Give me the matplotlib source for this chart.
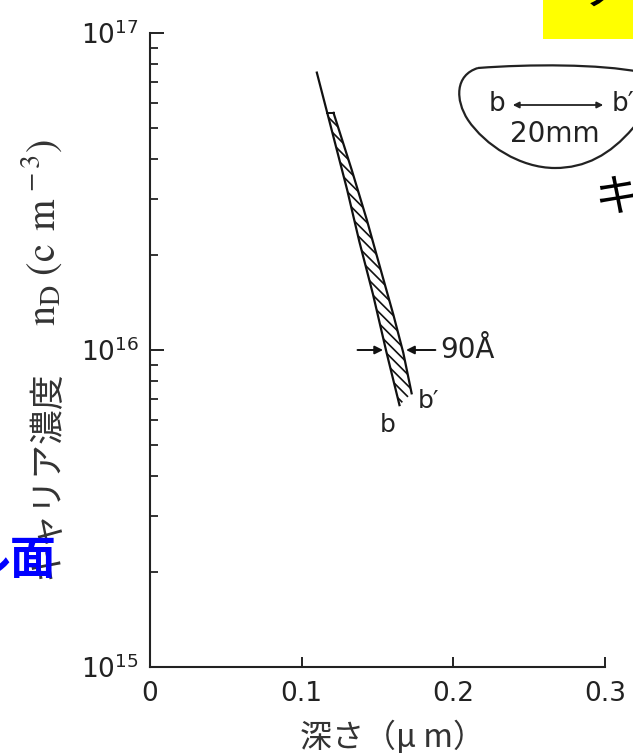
import matplotlib
matplotlib.use("Agg")
import matplotlib.pyplot as plt
import numpy as np
from matplotlib.path import Path
from matplotlib.patches import PathPatch, Rectangle, FancyArrowPatch
from matplotlib.ticker import LogLocator, NullFormatter, FixedLocator

# ---- data ----
depth_b = [0.110, 0.120, 0.130, 0.138, 0.147, 0.156, 0.1645]      # line b (left edge)
nd_b = [7.5e16, 4.9e16, 3.2e16, 2.2e16, 1.5e16, 9.8e15, 6.7e15]
depth_bp = [0.121, 0.133, 0.143, 0.153, 0.1605, 0.167, 0.1725]    # line b' (right edge)
nd_bp = [5.6e16, 3.7e16, 2.57e16, 1.73e16, 1.29e16, 9.8e15, 7.3e15]

x_ticks = [0, 0.1, 0.2, 0.3]
x_ticklabels = ["0", "0.1", "0.2", "0.3"]
y_ticks = [1e15, 1e16, 1e17]
y_ticklabels = [r"$10^{15}$", r"$10^{16}$", r"$10^{17}$"]

W, H = 633, 756
fig = plt.figure(figsize=(W / 100, H / 100), dpi=100)
fig.patch.set_facecolor("white")
plt.rcParams["mathtext.fontset"] = "dejavusans"
plt.rcParams["hatch.linewidth"] = 1.2

def fx(px):
    return px / W

def fy(py):
    return 1 - py / H

ax = fig.add_axes([fx(150), fy(667), fx(605) - fx(150), fy(33) - fy(667)])
ax.set_yscale("log")
ax.set_xlim(0, 0.3)
ax.set_ylim(1e15, 1e17)
for s in ["top", "right"]:
    ax.spines[s].set_visible(False)
for s in ["left", "bottom"]:
    ax.spines[s].set_linewidth(1.5)
    ax.spines[s].set_color("#222222")

ax.xaxis.set_major_locator(FixedLocator(x_ticks))
ax.set_xticklabels(x_ticklabels)
ax.yaxis.set_major_locator(FixedLocator(y_ticks))
ax.set_yticklabels(y_ticklabels)
ax.yaxis.set_minor_locator(LogLocator(base=10, subs=range(2, 10)))
ax.yaxis.set_minor_formatter(NullFormatter())
ax.tick_params(axis="both", which="major", direction="in", length=10, width=1.4,
               labelsize=19, colors="#222222", pad=8)
ax.tick_params(axis="x", which="major", length=7, pad=10)
ax.tick_params(axis="y", which="minor", direction="in", length=6, width=1.3, colors="#222222")

# curves
ax.plot(depth_b, nd_b, color="#111111", lw=1.6)
ax.plot(depth_bp, nd_bp, color="#111111", lw=1.6)
ax.plot([0.1165, depth_bp[0]], [nd_bp[0], nd_bp[0]], color="#111111", lw=1.4)

# hatched band between b and b'
yb = np.array(nd_bp)
xb_left = np.interp(np.log10(yb), np.log10(nd_b[::-1]), depth_b[::-1])
poly_x = list(xb_left) + [depth_b[-1]] + list(depth_bp[::-1])
poly_y = list(yb) + [nd_b[-1]] + list(nd_bp[::-1])
ax.fill(poly_x, poly_y, facecolor="none", edgecolor="#111111", hatch="\\\\\\", linewidth=0)

# 90 Å annotation
ax.annotate("", xy=(0.1555, 1e16), xytext=(0.135, 1e16),
            arrowprops=dict(arrowstyle="-|>", color="#111111", lw=1.4, mutation_scale=12))
ax.annotate("", xy=(0.167, 1e16), xytext=(0.190, 1e16),
            arrowprops=dict(arrowstyle="-|>", color="#111111", lw=1.4, mutation_scale=12))
ax.text(0.1915, 1e16, "90Å", fontsize=20, va="center", ha="left", color="#222222",
        family="DejaVu Sans")
ax.text(0.157, 5.8e15, "b", fontsize=18, va="center", ha="center", color="#222222")
ax.text(0.1835, 6.9e15, "b′", fontsize=18, va="center", ha="center", color="#222222")

# axis labels
cjk = ["Noto Sans CJK JP", "DejaVu Sans"]
fig.text(fx(392), fy(737), "深さ（μ m）", family=cjk, fontsize=23, ha="center",
         va="center", color="#333333")
fig.text(fx(47), fy(475), "キャリア濃度", family=cjk, fontsize=25, rotation=90,
         ha="center", va="center", color="#333333")
fig.text(fx(42), fy(232), r"$\mathrm{n}_{\mathrm{D}}\;(\mathrm{c\;\,m}^{\,-3})$",
         fontsize=29, rotation=90, ha="center", va="center", color="#333333",
         math_fontfamily="stix")

# inset outline
pts = [
    (478, 68),
    (530, 64), (600, 64), (640, 72),
    (660, 80), (650, 110), (633, 128),
    (610, 155), (585, 168), (555, 168),
    (520, 168), (485, 145), (468, 120),
    (455, 100), (455, 75), (478, 68),
]
codes = [Path.MOVETO] + [Path.CURVE4] * 15
path = Path([(fx(p[0]), fy(p[1])) for p in pts], codes)
fig.patches.append(PathPatch(path, transform=fig.transFigure, facecolor="none",
                             edgecolor="#222222", lw=1.6))
fig.text(fx(497), fy(104), "b", fontsize=19, ha="center", va="center", color="#222222")
fig.text(fx(612), fy(104), "b′", fontsize=19, ha="left", va="center", color="#222222")
fig.text(fx(555), fy(134), "20mm", fontsize=20, ha="center", va="center", color="#222222")
fig.patches.append(FancyArrowPatch(
    (fx(510), fy(105)), (fx(606), fy(105)), transform=fig.transFigure,
    arrowstyle="<|-|>", mutation_scale=9, color="#222222", lw=1.3))

# slide overlays
fig.patches.append(Rectangle((fx(543), fy(39)), fx(633) - fx(543), fy(0) - fy(39),
                             transform=fig.transFigure, facecolor="#ffff00",
                             edgecolor="none", zorder=5))
fig.text(fx(602), fy(17), "ソ", family=cjk, fontsize=36, ha="center", va="bottom",
         color="black", zorder=6)
fig.text(fx(594), fy(198), "キ", family=cjk, fontsize=32, ha="left", va="center",
         color="black")
fig.text(fx(56), fy(561), "ル面", family=cjk, fontsize=33, fontweight="bold",
         ha="right", va="center", color="#0000ff", zorder=6)

fig.savefig("out.png", dpi=100, facecolor="white")
